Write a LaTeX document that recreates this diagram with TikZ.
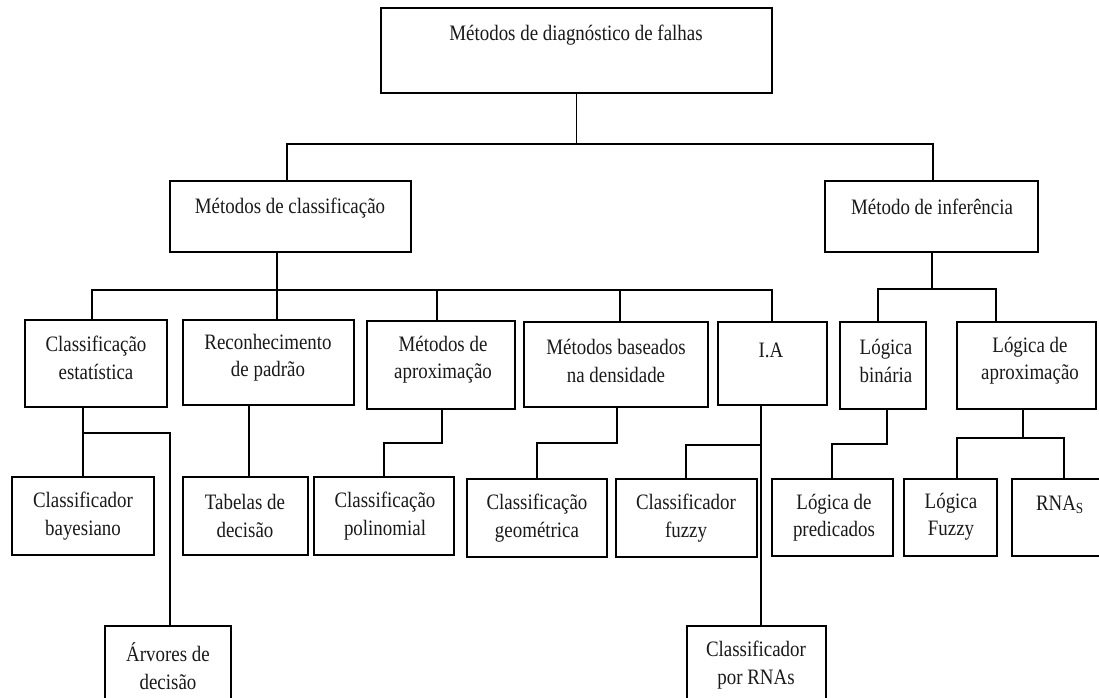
\documentclass[tikz,border=0pt]{standalone}
\usepackage{fontspec}
\setmainfont[FakeStretch=0.86]{Liberation Serif}
\usetikzlibrary{calc}

% \mkbox{name}{left}{top}{right}{bottom}: an empty framed box given by its corners
\newcommand{\mkbox}[5]{%
  \node[box, minimum width={(#4-#2)*0.75pt}, minimum height={(#5-#3)*0.75pt}]
    (#1) at ({(#2+#4)/2},{(#3+#5)/2}) {};}

\begin{document}
\begin{tikzpicture}[x=0.75pt, y=-0.75pt,
  box/.style={draw=black, line width=1.3pt, inner sep=0pt, outer sep=0pt},
  txt/.style={align=center, inner sep=0pt, text=black!90,
              font=\fontsize{16.5pt}{20.5pt}\selectfont},
  link/.style={draw=black, line width=1.2pt, line join=miter}]
\useasboundingbox (0,0) rectangle (1099,698);

% ---- boxes ----
\mkbox{top}{381}{8}{772}{93}
\mkbox{mc}{170}{181}{411}{252}
\mkbox{mi}{825}{181}{1038}{252}
\mkbox{ce}{25}{320}{167}{407}
\mkbox{rp}{183}{320}{354}{405}
\mkbox{ma}{367}{321}{515}{409}
\mkbox{mbd}{524}{322}{708}{407}
\mkbox{ia}{718}{322}{827}{405}
\mkbox{lb}{840}{322}{926}{409}
\mkbox{la}{957}{322}{1096}{409}
\mkbox{cb}{12}{477}{154}{555}
\mkbox{td}{183}{477}{308}{555}
\mkbox{cp}{314}{477}{454}{555}
\mkbox{cg}{467}{479}{607}{557}
\mkbox{cf}{616}{479}{757}{557}
\mkbox{lp}{772}{479}{893}{556}
\mkbox{lf}{904}{479}{997}{556}
\mkbox{rn}{1012}{479}{1106}{556}
\mkbox{ad}{105}{626}{231}{712}
\mkbox{crn}{687}{626}{826}{712}

% ---- labels ----
\node[txt] (t-top) at (576,35) {Métodos de diagnóstico de falhas};
\node[txt] (t-mc) at (290,208) {Métodos de classificação};
\node[txt] (t-mi) at (932,207) {Método de inferência};
\node[txt] (t-ce) at (96,358) {Classificação\\estatística};
\node[txt] (t-rp) at (268,358) {Reconhecimento\\de padrão};
\node[txt] (t-ma) at (443,360) {Métodos de\\aproximação};
\node[txt] (t-mbd) at (616,361) {Métodos baseados\\na densidade};
\node[txt] (t-ia) at (771,350) {I.A};
\node[txt] (t-lb) at (886,361) {Lógica\\binária};
\node[txt] (t-la) at (1030,361) {Lógica de\\aproximação};
\node[txt] (t-cb) at (83,516) {Classificador\\bayesiano};
\node[txt] (t-td) at (245,516) {Tabelas de\\decisão};
\node[txt] (t-cp) at (385,516) {Classificação\\polinomial};
\node[txt] (t-cg) at (537,518) {Classificação\\geométrica};
\node[txt] (t-cf) at (686,518) {Classificador\\fuzzy};
\node[txt] (t-lp) at (834,518) {Lógica de\\predicados};
\node[txt] (t-lf) at (951,517) {Lógica\\Fuzzy};
\node[txt] (t-rn) at (1060,505) {RNA\textsubscript{S}};
\node[txt] (t-ad) at (168,666) {Árvores de\\decisão};
\node[txt] (t-crn) at (756,665) {Classificador\\por RNAs};

% ---- junction points ----
\coordinate (b1l) at (287,144);
\coordinate (b1r) at (933,144);
\coordinate (b2l) at (92,290);
\coordinate (b2r) at (772,290);
\coordinate (s2)  at (277,290);
\coordinate (dma) at (437,290);
\coordinate (dmb) at (620,290);
\coordinate (b3l) at (878,289);
\coordinate (b3r) at (996,289);
\coordinate (s3)  at (932,289);
\coordinate (c1)  at (83,433);
\coordinate (c2)  at (170,433);
\coordinate (c3)  at (249,440);
\coordinate (c4)  at (442,443);
\coordinate (c5)  at (384,443);
\coordinate (c6)  at (617,443);
\coordinate (c7)  at (537,443);
\coordinate (c8)  at (761,445);
\coordinate (c9)  at (686,445);
\coordinate (c10) at (887,444);
\coordinate (c11) at (832,444);
\coordinate (c12) at (1023,438);
\coordinate (c13) at (957,438);
\coordinate (c14) at (1064,438);

% ---- connectors ----
\draw[link] (top.south) -- (top.south |- b1l);
\draw[link] (mc.north -| b1l) -- (b1l) -- (b1r) -- (mi.north -| b1r);

\draw[link] (ce.north -| b2l) -- (b2l) -- (b2r) -- (ia.north -| b2r);
\draw[link] (mc.south -| s2) -- (rp.north -| s2);
\draw[link] (dma) -- (ma.north -| dma);
\draw[link] (dmb) -- (mbd.north -| dmb);

\draw[link] (mi.south -| s3) -- (s3);
\draw[link] (lb.north -| b3l) -- (b3l) -- (b3r) -- (la.north -| b3r);

\draw[link] (ce.south -| c1) -- (cb.north -| c1);
\draw[link] (c1) -- (c2) -- (ad.north -| c2);
\draw[link] (rp.south -| c3) -- (td.north -| c3);
\draw[link] (ma.south -| c4) -- (c4) -- (c5) -- (cp.north -| c5);
\draw[link] (mbd.south -| c6) -- (c6) -- (c7) -- (cg.north -| c7);
\draw[link] (ia.south -| c8) -- (crn.north -| c8);
\draw[link] (c8) -- (c9) -- (cf.north -| c9);
\draw[link] (lb.south -| c10) -- (c10) -- (c11) -- (lp.north -| c11);
\draw[link] (la.south -| c12) -- (c12);
\draw[link] (lf.north -| c13) -- (c13) -- (c14) -- (rn.north -| c14);
\end{tikzpicture}
\end{document}
